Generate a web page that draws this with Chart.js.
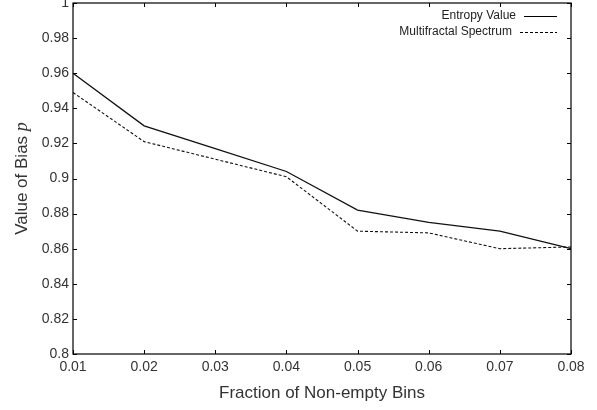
<!DOCTYPE html>
<html lang="en">
<head>
  <meta charset="UTF-8" />
  <title>Bias vs Fraction of Non-empty Bins</title>
  <style>
    html, body { margin: 0; padding: 0; background: #fff; }
    canvas { display: block; }
  </style>
</head>
<body>
  <canvas id="biasChart" width="597" height="410"></canvas>

  <script src="https://cdn.jsdelivr.net/npm/chart.js"></script>
  <script>
    // data
    const xLabels = ['0.01', '0.02', '0.03', '0.04', '0.05', '0.06', '0.07', '0.08'];
    const entropyValues = [0.960, 0.930, 0.917, 0.904, 0.882, 0.875, 0.870, 0.860];
    const spectrumValues = [0.949, 0.921, 0.911, 0.901, 0.870, 0.869, 0.860, 0.861];
    const yTickValues = [0.8, 0.82, 0.84, 0.86, 0.88, 0.9, 0.92, 0.94, 0.96, 0.98, 1];
    const yTickLabels = ['0.8', '0.82', '0.84', '0.86', '0.88', '0.9', '0.92', '0.94', '0.96', '0.98', '1'];
    const seriesNames = ['Entropy Value', 'Multifractal Spectrum'];

    const textColor = '#333';
    const sans = '"Liberation Sans", Arial, sans-serif';

    // frame, inner tick marks, key and axis titles, gnuplot style
    const framePlugin = {
      id: 'frame',
      afterDraw(chart) {
        const { ctx, chartArea: a, scales } = chart;
        const tick = 4;
        ctx.save();
        ctx.strokeStyle = '#000';
        ctx.lineWidth = 1.2;
        ctx.strokeRect(a.left, a.top, a.right - a.left, a.bottom - a.top);

        ctx.beginPath();
        scales.y.ticks.forEach(t => {
          const py = Math.round(scales.y.getPixelForValue(t.value)) + 0.5;
          ctx.moveTo(a.left, py); ctx.lineTo(a.left + tick, py);
          ctx.moveTo(a.right, py); ctx.lineTo(a.right - tick, py);
        });
        xLabels.forEach((_, i) => {
          const px = Math.round(scales.x.getPixelForValue(i)) + 0.5;
          ctx.moveTo(px, a.bottom); ctx.lineTo(px, a.bottom - tick);
          ctx.moveTo(px, a.top); ctx.lineTo(px, a.top + tick);
        });
        ctx.lineWidth = 1;
        ctx.stroke();

        // key
        ctx.font = '12px ' + sans;
        ctx.fillStyle = '#222';
        ctx.textAlign = 'right';
        ctx.textBaseline = 'middle';
        const rows = [
          { y: 16, textEnd: 516, dash: [] },
          { y: 32, textEnd: 512, dash: [3, 2] }
        ];
        rows.forEach((r, i) => {
          ctx.fillText(seriesNames[i], r.textEnd, r.y);
          ctx.beginPath();
          ctx.setLineDash(r.dash);
          ctx.moveTo(r.textEnd + 8, r.y + 0.5);
          ctx.lineTo(557, r.y + 0.5);
          ctx.stroke();
        });
        ctx.setLineDash([]);

        // axis titles
        ctx.fillStyle = textColor;
        ctx.textAlign = 'center';
        ctx.font = '17px ' + sans;
        ctx.fillText('Fraction of Non-empty Bins', (a.left + a.right) / 2, 393);

        const main = 'Value of Bias ';
        const italicFont = 'italic 18px "Liberation Serif", serif';
        ctx.font = '17px ' + sans;
        const w1 = ctx.measureText(main).width;
        ctx.font = italicFont;
        const w2 = ctx.measureText('p').width;
        ctx.translate(22, (a.top + a.bottom) / 2);
        ctx.rotate(-Math.PI / 2);
        ctx.textAlign = 'left';
        ctx.font = '17px ' + sans;
        ctx.fillText(main, -(w1 + w2) / 2, 0);
        ctx.font = italicFont;
        ctx.fillText('p', -(w1 + w2) / 2 + w1, 0);
        ctx.restore();
      }
    };

    new Chart(document.getElementById('biasChart').getContext('2d'), {
      type: 'line',
      data: {
        labels: xLabels,
        datasets: [
          {
            label: seriesNames[0],
            data: entropyValues,
            borderColor: '#111',
            borderWidth: 1.3,
            pointRadius: 0,
            tension: 0,
            fill: false
          },
          {
            label: seriesNames[1],
            data: spectrumValues,
            borderColor: '#111',
            borderWidth: 1.1,
            borderDash: [3, 2],
            pointRadius: 0,
            tension: 0,
            fill: false
          }
        ]
      },
      options: {
        responsive: false,
        devicePixelRatio: 1,
        animation: false,
        layout: { padding: { left: 0, right: 26, top: 3, bottom: 0 } },
        plugins: {
          legend: { display: false },
          tooltip: { enabled: false }
        },
        scales: {
          x: {
            type: 'category',
            offset: false,
            grid: { display: false, drawTicks: false },
            border: { display: false },
            ticks: {
              color: textColor,
              font: { family: sans, size: 14 },
              padding: 5,
              maxRotation: 0,
              autoSkip: false
            },
            afterFit(s) { s.height = 56; s.paddingLeft = 0; s.paddingRight = 0; }
          },
          y: {
            min: 0.8,
            max: 1,
            grid: { display: false, drawTicks: false },
            border: { display: false },
            afterBuildTicks(s) { s.ticks = yTickValues.map(v => ({ value: v })); },
            ticks: {
              color: textColor,
              font: { family: sans, size: 14 },
              padding: 4,
              callback: (v, i) => yTickLabels[i]
            },
            afterFit(s) { s.width = 73; s.paddingTop = 0; s.paddingBottom = 0; }
          }
        }
      },
      plugins: [framePlugin]
    });
  </script>
</body>
</html>
